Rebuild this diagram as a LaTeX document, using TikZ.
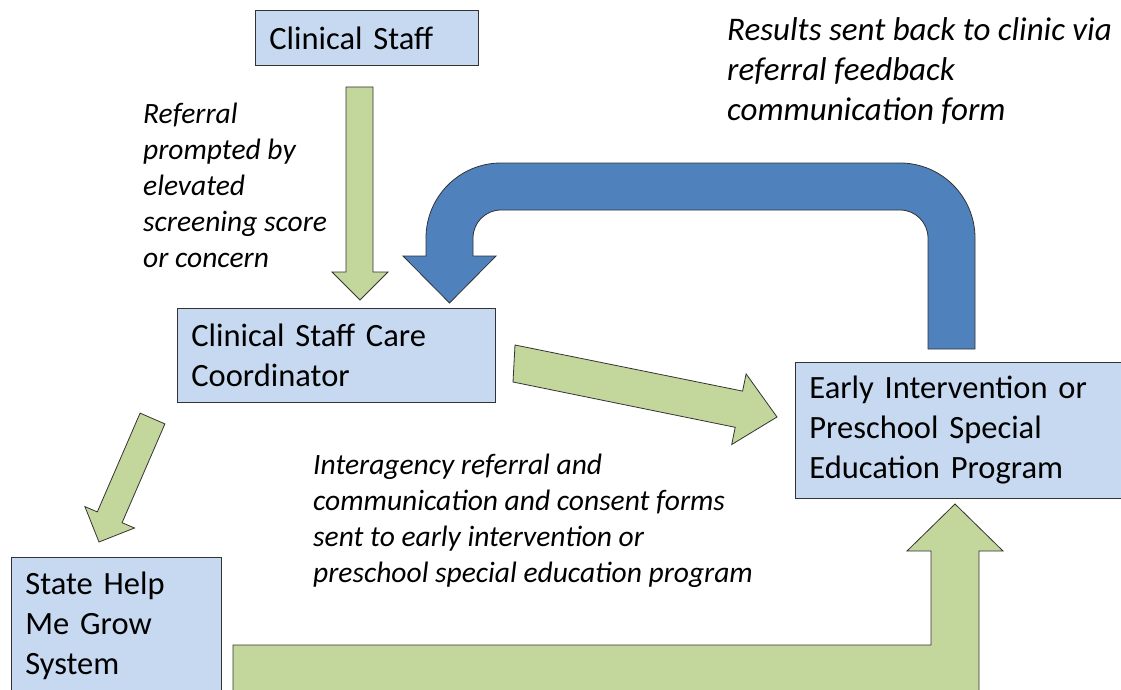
\documentclass[tikz,border=0pt]{standalone}
\usepackage{fontspec}
\setmainfont{Carlito}
\usetikzlibrary{positioning}
\definecolor{BoxBlue}{HTML}{C6D9F0}
\definecolor{ArrowGreen}{HTML}{C3D69B}
\definecolor{ArrowBlue}{HTML}{4F81BD}
\tikzset{
  unitbox/.style={draw=black!80, line width=0.8pt, fill=BoxBlue, anchor=north west,
    inner xsep=14pt, inner ysep=0pt, align=left,
    font=\fontsize{32.5}{40}\selectfont},
  notetext/.style={anchor=north west, inner sep=0pt, align=left,
    font=\fontsize{29.5}{36}\selectfont\itshape},
  greenarrow/.style={draw=black!80, line width=0.8pt, fill=ArrowGreen, line join=miter},
  bluearrow/.style={draw=black!80, line width=0.8pt, fill=ArrowBlue, line join=miter}
}

\begin{document}
\begin{tikzpicture}[x=1pt, y=-1pt]
  \useasboundingbox (0,0) rectangle (1121,690);
  \clip (0,0) rectangle (1121,690);

  % boxes
  \node[unitbox, text width=195pt, minimum height=55pt] (staff) at (255,10)
    {Clinical Staff};
  \node[unitbox, text width=290pt, minimum height=94pt] (coord) at (177,308)
    {Clinical Staff Care\\Coordinator};
  \node[unitbox, text width=320pt, minimum height=136pt] (early) at (795,362)
    {Early Intervention or\\Preschool Special\\Education Program};
  \node[unitbox, text width=182pt, minimum height=136pt] (state) at (11,557)
    {State Help\\Me Grow\\System};

  % notes
  \node[notetext] (referral) at (143,103)
    {Referral\\prompted by\\elevated\\screening score\\or concern};
  \node[notetext] (forms) at (313,454)
    {Interagency referral and\\communication and consent forms\\sent to early intervention or\\preschool special education program};
  \node[notetext, font=\fontsize{33}{40}\selectfont\itshape] (results) at (727,17)
    {Results sent back to clinic via\\referral feedback\\communication form};

  % staff -> coord
  \draw[greenarrow] (346,87) -- (373,87) -- (373,272) -- (388,272) -- (360,300)
    -- (332,272) -- (346,272) -- cycle;
  % coord -> early
  \draw[greenarrow] (515,345) -- (742.6,391.1) -- (746.1,373.9) -- (777,417)
    -- (731.7,444.5) -- (735.2,427.3) -- (513,382) -- cycle;
  % coord -> state
  \draw[greenarrow] (140.1,413.1) -- (164.9,423.9) -- (122.1,522.7) -- (134.5,528)
    -- (99,542) -- (84.9,506.6) -- (97.3,511.9) -- cycle;
  % state -> early
  \draw[greenarrow] (233,645) -- (931,645) -- (931,551) -- (907,551) -- (955,504)
    -- (1003,551) -- (979,551) -- (979,700) -- (233,700) -- cycle;
  % early -> coord (feedback)
  \draw[bluearrow] (928,349) -- (975,349) -- (975,238) arc (0:-90:75)
    -- (501,163) arc (-90:-180:75) -- (426,256) -- (403,256) -- (449.5,303)
    -- (496,256) -- (473,256) -- (473,238) arc (180:270:28)
    -- (900,210) arc (270:360:28) -- cycle;
\end{tikzpicture}
\end{document}
